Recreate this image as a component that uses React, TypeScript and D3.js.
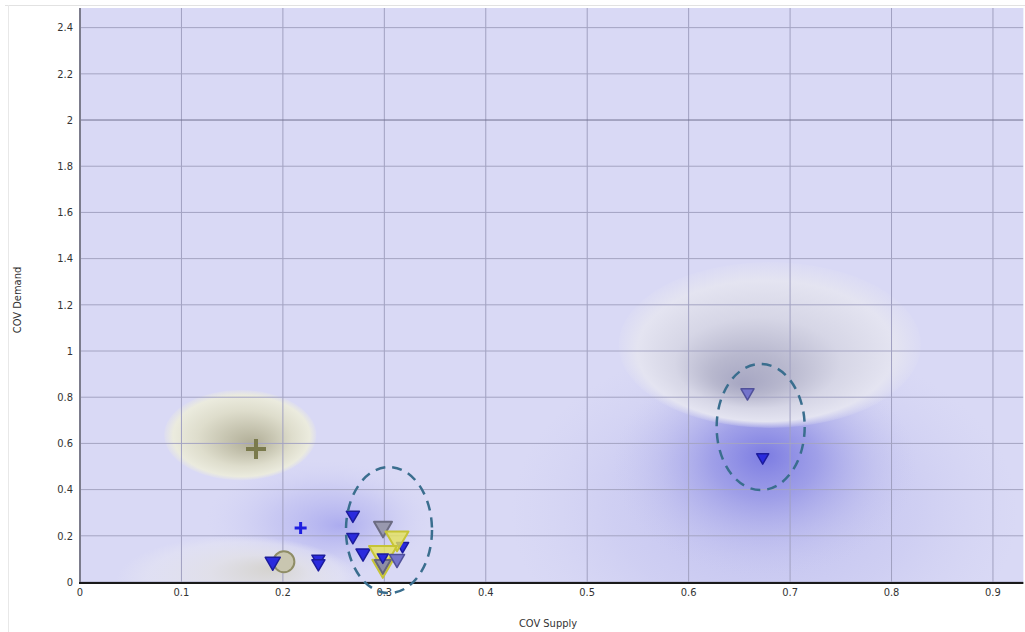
import React from "react";
import * as d3 from "d3";

// ---------- data ----------
const xTicks = [0, 0.1, 0.2, 0.3, 0.4, 0.5, 0.6, 0.7, 0.8, 0.9];
const yTicks = [0, 0.2, 0.4, 0.6, 0.8, 1, 1.2, 1.4, 1.6, 1.8, 2, 2.2, 2.4];

// small blue down-triangles
const blueTriangles = [
  { x: 0.19, y: 0.088, s: 15 },
  { x: 0.235, y: 0.1, s: 13 },
  { x: 0.235, y: 0.08, s: 13 },
  { x: 0.269, y: 0.29, s: 13 },
  { x: 0.269, y: 0.195, s: 12 },
  { x: 0.279, y: 0.125, s: 14 },
  { x: 0.318, y: 0.156, s: 12 },
  { x: 0.673, y: 0.54, s: 12 },
];
// muted blue-gray triangles
const slateTriangles = [
  { x: 0.3125, y: 0.1, s: 15 },
  { x: 0.658, y: 0.82, s: 13 },
];
// large gray triangles
const grayTriangles = [{ x: 0.2987, y: 0.238, s: 18 }];
// large yellow triangles
const yellowTriangles = [
  { x: 0.3125, y: 0.19, s: 23 },
  { x: 0.2987, y: 0.121, s: 28 },
  { x: 0.2985, y: 0.07, s: 21 },
];
const grayTrianglesTop = [{ x: 0.2985, y: 0.075, s: 16 }];
const blueTrianglesTop = [{ x: 0.2985, y: 0.108, s: 11 }];
const circles = [{ x: 0.201, y: 0.088, r: 10.5 }];
const olivePlus = [{ x: 0.1735, y: 0.576, s: 10 }];
const bluePlus = [{ x: 0.2175, y: 0.234, s: 6 }];

// dashed annotation ellipses (data units)
const annotations = [
  { cx: 0.3046, cy: 0.225, rx: 0.0424, ry: 0.273 },
  { cx: 0.671, cy: 0.671, rx: 0.0434, ry: 0.273 },
];

// density background blobs (data units)
const heatBlobs = [
  { id: "bl2", cx: 0.675, cy: 0.3, rx: 0.25, ry: 0.75 },
  { id: "bl", cx: 0.675, cy: 0.5, rx: 0.15, ry: 0.48 },
  { id: "bll", cx: 0.235, cy: 0.27, rx: 0.11, ry: 0.26 },
  { id: "wh", cx: 0.68, cy: 1.026, rx: 0.149, ry: 0.359 },
  { id: "bg", cx: 0.158, cy: 0.636, rx: 0.075, ry: 0.195 },
  { id: "lb", cx: 0.155, cy: 0.0, rx: 0.12, ry: 0.2 },
];

const FONT = "'DejaVu Sans Condensed', 'Liberation Sans Narrow', 'Liberation Sans', sans-serif";

function triPath(w: number) {
  const h = w * 0.86;
  return `M${-w / 2},${-h / 3}L${w / 2},${-h / 3}L0,${(2 * h) / 3}Z`;
}
function plusPath(s: number) {
  return `M${-s},0H${s}M0,${-s}V${s}`;
}
const fmt = (v: number) => String(+v.toFixed(1));

export default function App() {
  const W = 1025;
  const H = 632;
  const x = d3.scaleLinear().domain([0, 0.93]).range([80, 80 + 0.93 * 1014.4]);
  const y = d3.scaleLinear().domain([0, 2.485]).range([582, 8]);
  const [x0, x1] = x.range();
  const [y0, y1] = y.range();
  const pw = (d: number) => x(d) - x(0);
  const ph = (d: number) => y(0) - y(d);

  const tri = (
    arr: { x: number; y: number; s: number }[],
    fill: string,
    stroke: string,
    sw: number,
    op = 1
  ) =>
    arr.map((d, i) => (
      <path
        key={i}
        d={triPath(d.s)}
        transform={`translate(${x(d.x)},${y(d.y)})`}
        fill={fill}
        fillOpacity={op}
        stroke={stroke}
        strokeWidth={sw}
        strokeLinejoin="round"
      />
    ));

  return (
    <svg
      width={W}
      height={H}
      style={{ position: "absolute", left: 0, top: 0, background: "#fff" }}
    >
      <defs>
        <clipPath id="plot">
          <rect x={x0} y={y1} width={x1 - x0} height={y0 - y1} />
        </clipPath>
        <radialGradient id="g-bl2" fx="0.5" fy="0.45">
          <stop offset="0" stopColor="#a8a8ea" stopOpacity="0.6" />
          <stop offset="0.6" stopColor="#bcbcee" stopOpacity="0.35" />
          <stop offset="1" stopColor="#c8c8f0" stopOpacity="0" />
        </radialGradient>
        <radialGradient id="g-bl" fx="0.5" fy="0.45">
          <stop offset="0" stopColor="#7c7ce2" stopOpacity="1" />
          <stop offset="0.35" stopColor="#9696e6" stopOpacity="0.8" />
          <stop offset="0.7" stopColor="#b4b4ec" stopOpacity="0.4" />
          <stop offset="1" stopColor="#c8c8f0" stopOpacity="0" />
        </radialGradient>
        <radialGradient id="g-bll" fx="0.6" fy="0.55">
          <stop offset="0" stopColor="#a4a4ee" stopOpacity="0.85" />
          <stop offset="0.5" stopColor="#b8b8f0" stopOpacity="0.5" />
          <stop offset="1" stopColor="#cfcff4" stopOpacity="0" />
        </radialGradient>
        <radialGradient id="g-wh" fx="0.41" fy="0.74">
          <stop offset="0" stopColor="#a6a6c2" stopOpacity="1" />
          <stop offset="0.25" stopColor="#b8b8ce" stopOpacity="1" />
          <stop offset="0.55" stopColor="#d6d6e6" stopOpacity="1" />
          <stop offset="0.85" stopColor="#e4e4f1" stopOpacity="1" />
          <stop offset="1" stopColor="#e4e4f1" stopOpacity="0.15" />
        </radialGradient>
        <radialGradient id="g-bg" fx="0.58" fy="0.6">
          <stop offset="0" stopColor="#b0ad96" stopOpacity="1" />
          <stop offset="0.3" stopColor="#c6c4b0" stopOpacity="1" />
          <stop offset="0.62" stopColor="#deddcc" stopOpacity="1" />
          <stop offset="0.9" stopColor="#ebebde" stopOpacity="1" />
          <stop offset="1" stopColor="#ebebe0" stopOpacity="0.2" />
        </radialGradient>
        <radialGradient id="g-lb" fx="0.65" fy="0.35">
          <stop offset="0" stopColor="#d4d2ca" stopOpacity="0.9" />
          <stop offset="0.4" stopColor="#e2e1e6" stopOpacity="0.8" />
          <stop offset="0.8" stopColor="#e6e6f2" stopOpacity="0.5" />
          <stop offset="1" stopColor="#e6e6f2" stopOpacity="0" />
        </radialGradient>
      </defs>

      {/* outer frame */}
      <line x1={5} x2={W} y1={5.5} y2={5.5} stroke="#e2e2e2" />
      <line x1={8.5} x2={8.5} y1={5} y2={H} stroke="#e8e8e8" />

      {/* plot background */}
      <rect x={x0} y={y1} width={x1 - x0} height={y0 - y1} fill="#d9d9f5" />

      <g clipPath="url(#plot)">
        {heatBlobs.map((b) => (
          <ellipse
            key={b.id}
            cx={x(b.cx)}
            cy={y(b.cy)}
            rx={pw(b.rx)}
            ry={ph(b.ry)}
            fill={`url(#g-${b.id})`}
          />
        ))}

        {/* grid */}
        {xTicks.map((t) => (
          <line
            key={"gx" + t}
            x1={x(t)}
            x2={x(t)}
            y1={y1}
            y2={y0}
            stroke="#a0a0c0"
            strokeWidth={1}
          />
        ))}
        {yTicks.map((t) => (
          <line
            key={"gy" + t}
            x1={x0}
            x2={x1}
            y1={y(t)}
            y2={y(t)}
            stroke={t === 2 ? "#70708f" : "#a4a4c2"}
            strokeWidth={1}
          />
        ))}

        {/* markers */}
        {circles.map((d, i) => (
          <circle
            key={"c" + i}
            cx={x(d.x)}
            cy={y(d.y)}
            r={d.r}
            fill="#c9c6b0"
            stroke="#8f8d66"
            strokeWidth={2}
          />
        ))}
        {tri(blueTriangles, "#2a2ade", "#1c1c9c", 1.5)}
        {tri(grayTriangles, "#9898ae", "#6c6c82", 2)}
        {tri(yellowTriangles, "#e6e45c", "#c6c436", 2, 0.8)}
        {tri(grayTrianglesTop, "#8e8ea6", "#66667c", 2)}
        {tri(slateTriangles, "#7474cc", "#50509a", 1.5)}
        {tri(blueTrianglesTop, "#2a2ade", "#1c1c9c", 1.5)}
        {olivePlus.map((d, i) => (
          <path
            key={"op" + i}
            d={plusPath(d.s)}
            transform={`translate(${x(d.x)},${y(d.y)})`}
            stroke="#7a7a4c"
            strokeWidth={4}
          />
        ))}
        {bluePlus.map((d, i) => (
          <path
            key={"bp" + i}
            d={plusPath(d.s)}
            transform={`translate(${x(d.x)},${y(d.y)})`}
            stroke="#1e1ee0"
            strokeWidth={3}
          />
        ))}
      </g>

      {/* axes */}
      <line x1={x0} x2={x0} y1={y1} y2={y0} stroke="#7c7c8c" strokeWidth={2} />
      <line x1={x0 - 1} x2={x1} y1={y0 + 1} y2={y0 + 1} stroke="#1a1a1a" strokeWidth={2} />

      {yTicks.map((t) => (
        <text
          key={"ty" + t}
          x={73}
          y={y(t)}
          dy="0.35em"
          textAnchor="end"
          fontFamily={FONT}
          fontSize={11}
          fill="#333"
        >
          {fmt(t)}
        </text>
      ))}
      {xTicks.map((t) => (
        <text
          key={"tx" + t}
          x={x(t)}
          y={596}
          textAnchor="middle"
          fontFamily={FONT}
          fontSize={11}
          fill="#333"
        >
          {fmt(t)}
        </text>
      ))}

      {/* dashed annotations */}
      {annotations.map((a, i) => (
        <ellipse
          key={"an" + i}
          cx={x(a.cx)}
          cy={y(a.cy)}
          rx={pw(a.rx)}
          ry={ph(a.ry)}
          fill="none"
          stroke="#3a6e8e"
          strokeWidth={2.5}
          strokeDasharray="10 7"
        />
      ))}

      <text x={548} y={627} textAnchor="middle" fontFamily={FONT} fontSize={11} fill="#333">
        COV Supply
      </text>
      <text
        transform="translate(21,300) rotate(-90)"
        textAnchor="middle"
        fontFamily={FONT}
        fontSize={11}
        fill="#333"
      >
        COV Demand
      </text>
    </svg>
  );
}
